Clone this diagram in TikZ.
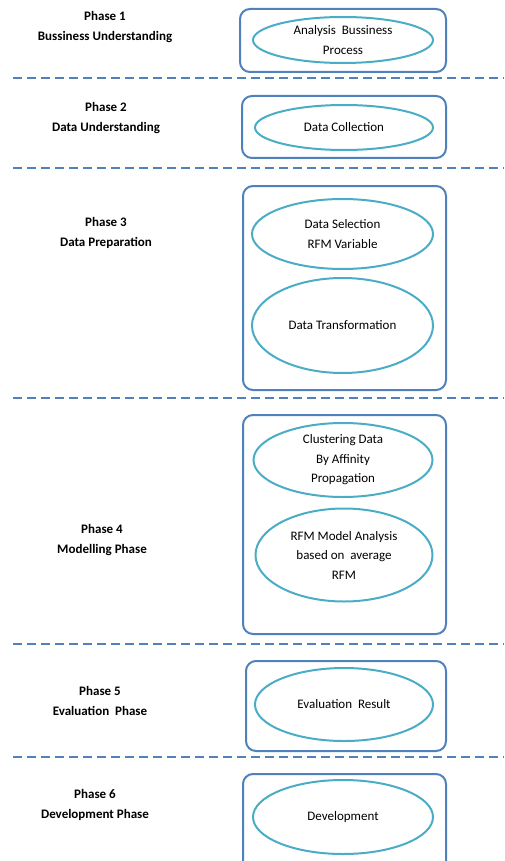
\documentclass[tikz,border=0pt]{standalone}
\usepackage{fontspec}
\setmainfont{Carlito}
\usepackage{tikz}
\usetikzlibrary{shapes.geometric}

\definecolor{boxblue}{RGB}{79,129,189}
\definecolor{ovalaqua}{RGB}{75,172,198}

\begin{document}
\begin{tikzpicture}[x=1pt, y=-1pt, every node/.style={align=center, font=\fontsize{13}{19.5}\selectfont},
		box/.style={rectangle, rounded corners=10pt, draw=boxblue, line width=2pt, inner sep=0pt},
		oval/.style={ellipse, draw=ovalaqua, line width=2pt, inner sep=0pt},
		phase/.style={font=\bfseries\fontsize{13}{20}\selectfont},
		sep/.style={draw=boxblue, line width=2pt, dash pattern=on 9pt off 5pt}]
				\useasboundingbox (0,0) rectangle (504,861);
				\clip (0,0) rectangle (504,861);
				
				% phase names
				\node[phase] (text1) at (105,27){Phase 1\\Bussiness Understanding};
				\node[phase] (text2) at (106,118){Phase 2\\Data Understanding};
				\node[phase] (text3) at (106,233){Phase 3\\Data Preparation};
				\node[phase] (text4) at (102,540){Phase 4\\Modelling Phase};
				\node[phase] (text5) at (100,701){Phase 5\\Evaluation\ \ Phase};
				\node[phase] (text6) at (95,805){Phase 6\\Development Phase};
				
				% boxes
				\node[box, minimum width=206pt, minimum height=63pt] (box1) at (343,40.5){};
				\node[box, minimum width=204pt, minimum height=62pt] (box2) at (344,127){};
				\node[box, minimum width=203pt, minimum height=204pt] (box3) at (344.5,288){};
				\node[box, minimum width=203pt, minimum height=219pt] (box4) at (344.5,524.5){};
				\node[box, minimum width=200pt, minimum height=90pt] (box5) at (346,706){};
				\node[box, minimum width=203pt, minimum height=110pt] (box6) at (344.5,829){};
				
				% steps
				\node[oval, minimum width=180pt, minimum height=46pt] (oval1) at (343,40){Analysis\ \ Bussiness\\Process};
				\node[oval, minimum width=178pt, minimum height=45pt] (oval2) at (344,127.5){Data Collection};
				\node[oval, minimum width=181pt, minimum height=70pt] (oval3a) at (342.5,234){Data Selection\\RFM Variable};
				\node[oval, minimum width=181pt, minimum height=95pt] (oval3b) at (342.5,325.5){Data Transformation};
				\node[oval, minimum width=179pt, minimum height=74pt] (oval4a) at (343,460){Clustering Data\\By Affinity\\Propagation};
				\node[oval, minimum width=177pt, minimum height=93pt] (oval4b) at (344,555){RFM Model Analysis\\based on\ \ average\\RFM};
				\node[oval, minimum width=178pt, minimum height=73pt] (oval5) at (344,704.5){Evaluation\ \ Result};
				\node[oval, minimum width=180pt, minimum height=74pt] (oval6) at (343,817){Development};
				
				% separators
				\foreach \i/\y in {1/78, 2/168, 3/398, 4/644, 5/757}{
					\coordinate (l\i) at (13,\y);
					\coordinate (r\i) at (504,\y);
					\path[sep] (l\i) -- (r\i);
				}
				\end{tikzpicture}
\end{document}
